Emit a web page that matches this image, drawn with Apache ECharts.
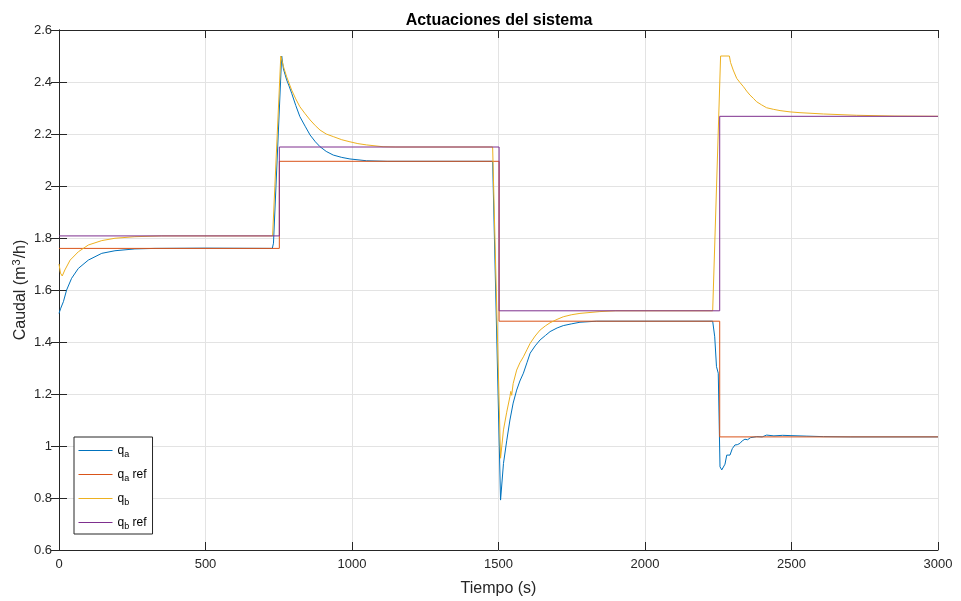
<!DOCTYPE html>
<html><head><meta charset="utf-8">
<script src="https://cdn.jsdelivr.net/npm/echarts@6/dist/echarts.min.js"></script>
<style>html,body{margin:0;padding:0;background:#fff}#c{width:961px;height:601px}</style>
</head><body><div id="c"></div>
<script>
const xTicks = [0, 500, 1000, 1500, 2000, 2500, 3000];
const yTicks = [0.6, 0.8, 1, 1.2, 1.4, 1.6, 1.8, 2, 2.2, 2.4, 2.6];

const qaRef = [[0,1.76],[752,1.76],[752,2.095],[1502,2.095],[1502,1.48],[2255,1.48],[2255,1.035],[3000,1.035]];
const qbRef = [[0,1.808],[752,1.808],[752,2.15],[1502,2.15],[1502,1.52],[2255,1.52],[2255,2.268],[3000,2.268]];

const qa = [[0,1.51],[6,1.53],[15,1.555],[26,1.6],[43,1.645],[66,1.683],[100,1.715],[146,1.741],[191,1.751],[259,1.758],[328,1.76],[500,1.761],[728,1.76],[732,1.78],[760,2.5],[766,2.45],[777,2.408],[785,2.385],[794,2.357],[808,2.31],[822,2.267],[840,2.23],[857,2.196],[875,2.17],[891,2.151],[912,2.133],[936,2.119],[965,2.11],[993,2.104],[1050,2.097],[1120,2.095],[1480,2.095],[1507,0.792],[1517,0.933],[1528,1.02],[1539,1.1],[1550,1.165],[1562,1.215],[1573,1.25],[1585,1.28],[1597,1.32],[1608,1.357],[1625,1.385],[1642,1.408],[1660,1.425],[1676,1.44],[1700,1.454],[1721,1.463],[1750,1.47],[1778,1.476],[1835,1.48],[2231,1.48],[2238,1.42],[2244,1.305],[2250,1.28],[2256,0.92],[2262,0.908],[2267,0.905],[2273,0.93],[2279,0.965],[2285,0.96],[2290,0.965],[2298,0.99],[2307,1.004],[2315,1.005],[2324,1.01],[2332,1.02],[2341,1.026],[2350,1.024],[2360,1.032],[2381,1.036],[2400,1.035],[2415,1.042],[2440,1.039],[2470,1.041],[2495,1.04],[2550,1.038],[2609,1.036],[2700,1.035],[3000,1.035]];

const qb = [[0,1.70],[5,1.665],[11,1.654],[20,1.677],[38,1.715],[66,1.747],[100,1.773],[146,1.79],[191,1.799],[259,1.805],[350,1.808],[729,1.808],[757,2.5],[766,2.459],[777,2.42],[794,2.369],[808,2.335],[822,2.305],[840,2.278],[857,2.254],[875,2.232],[891,2.215],[912,2.2],[936,2.19],[965,2.178],[993,2.17],[1020,2.163],[1050,2.158],[1106,2.151],[1150,2.15],[1480,2.15],[1507,0.953],[1517,1.062],[1528,1.13],[1539,1.19],[1542,1.21],[1545,1.195],[1550,1.24],[1562,1.292],[1573,1.32],[1585,1.343],[1597,1.37],[1608,1.395],[1625,1.423],[1642,1.446],[1660,1.462],[1676,1.474],[1700,1.487],[1721,1.497],[1750,1.505],[1778,1.51],[1846,1.517],[1900,1.52],[2231,1.52],[2258,2.5],[2288,2.5],[2292,2.475],[2301,2.446],[2313,2.414],[2324,2.398],[2336,2.382],[2347,2.365],[2358,2.35],[2370,2.337],[2381,2.324],[2398,2.312],[2415,2.301],[2438,2.295],[2461,2.29],[2495,2.285],[2529,2.282],[2609,2.277],[2722,2.272],[2850,2.269],[3000,2.268]];

const seriesNames = ['qa', 'qaref', 'qb', 'qbref'];
const legendLabels = {
  qa: '{q|q}{s|a}',
  qaref: '{q|q}{s|a}{q| ref}',
  qb: '{q|q}{s|b}',
  qbref: '{q|q}{s|b}{q| ref}'
};
const colors = ['#0072BD', '#D95319', '#EDB120', '#7E2F8E'];

const FONT = '"Liberation Sans", Arial, Helvetica, sans-serif';
const AX = '#262626';
const fmt = v => String(parseFloat(Number(v).toFixed(2)));

const chart = echarts.init(document.getElementById('c'), null, {renderer: 'canvas'});
const axisCommon = {
  axisLine: {show: true, lineStyle: {color: AX, width: 1}},
  axisTick: {show: true, inside: true, length: 8, lineStyle: {color: AX}},
};
chart.setOption({
  animation: false,
  backgroundColor: '#fff',
  color: colors,
  title: {
    text: 'Actuaciones del sistema',
    left: 494, top: 8, textAlign: 'center',
    textStyle: {fontFamily: FONT, fontSize: 16, fontWeight: 'bold', color: '#000'}
  },
  grid: {left: 59, right: 23, top: 30, bottom: 51, show: false, containLabel: false, outerBoundsMode: 'none'},
  legend: {
    orient: 'vertical', left: 74, top: 437,
    data: seriesNames,
    backgroundColor: '#fff', borderColor: AX, borderWidth: 1,
    padding: [5, 6, 3, 4], itemGap: 7, itemWidth: 34, itemHeight: 16,
    itemStyle: {opacity: 0},
    lineStyle: {width: 1},
    formatter: n => legendLabels[n],
    textStyle: {
      fontFamily: FONT, color: '#000', fontSize: 12,
      rich: {
        q: {fontFamily: FONT, fontSize: 12, color: '#000', lineHeight: 16},
        s: {fontFamily: FONT, fontSize: 9, color: '#000', padding: [8, 0, 0, 0], lineHeight: 16}
      }
    }
  },
  xAxis: [{
    type: 'value', min: 0, max: 3000, interval: 500, position: 'bottom',
    ...axisCommon,
    axisLabel: {fontFamily: FONT, fontSize: 13, color: AX, margin: 8, formatter: fmt},
    splitLine: {show: true, lineStyle: {color: '#e3e3e3', width: 1}},
    name: 'Tiempo (s)', nameLocation: 'middle', nameGap: 31, nameMoveOverlap: false,
    nameTextStyle: {fontFamily: FONT, fontSize: 16, color: AX}
  }, {
    type: 'value', min: 0, max: 3000, interval: 500, position: 'top',
    ...axisCommon,
    axisLabel: {show: false}, splitLine: {show: false}
  }],
  yAxis: [{
    type: 'value', min: 0.6, max: 2.6, interval: 0.2, position: 'left',
    ...axisCommon,
    axisLabel: {fontFamily: FONT, fontSize: 13, color: AX, margin: 7, formatter: fmt},
    splitLine: {show: true, lineStyle: {color: '#e3e3e3', width: 1}},
    name: 'Caudal (m{sup|3}/h)', nameLocation: 'middle', nameGap: 28, nameRotate: 90, nameMoveOverlap: false,
    nameTextStyle: {
      fontFamily: FONT, fontSize: 16, color: AX,
      rich: {sup: {fontFamily: FONT, fontSize: 11, color: AX, padding: [0, 1, 9, 1]}}
    }
  }, {
    type: 'value', min: 0.6, max: 2.6, interval: 0.2, position: 'right',
    ...axisCommon,
    axisLabel: {show: false}, splitLine: {show: false}
  }],
  series: [
    {name: 'qa', type: 'line', data: qa, symbol: 'none', lineStyle: {width: 1, color: colors[0]}, itemStyle: {color: colors[0]}},
    {name: 'qaref', type: 'line', data: qaRef, symbol: 'none', lineStyle: {width: 1, color: colors[1]}, itemStyle: {color: colors[1]}},
    {name: 'qb', type: 'line', data: qb, symbol: 'none', lineStyle: {width: 1, color: colors[2]}, itemStyle: {color: colors[2]}},
    {name: 'qbref', type: 'line', data: qbRef, symbol: 'none', lineStyle: {width: 1, color: colors[3]}, itemStyle: {color: colors[3]}}
  ]
});
</script></body></html>
